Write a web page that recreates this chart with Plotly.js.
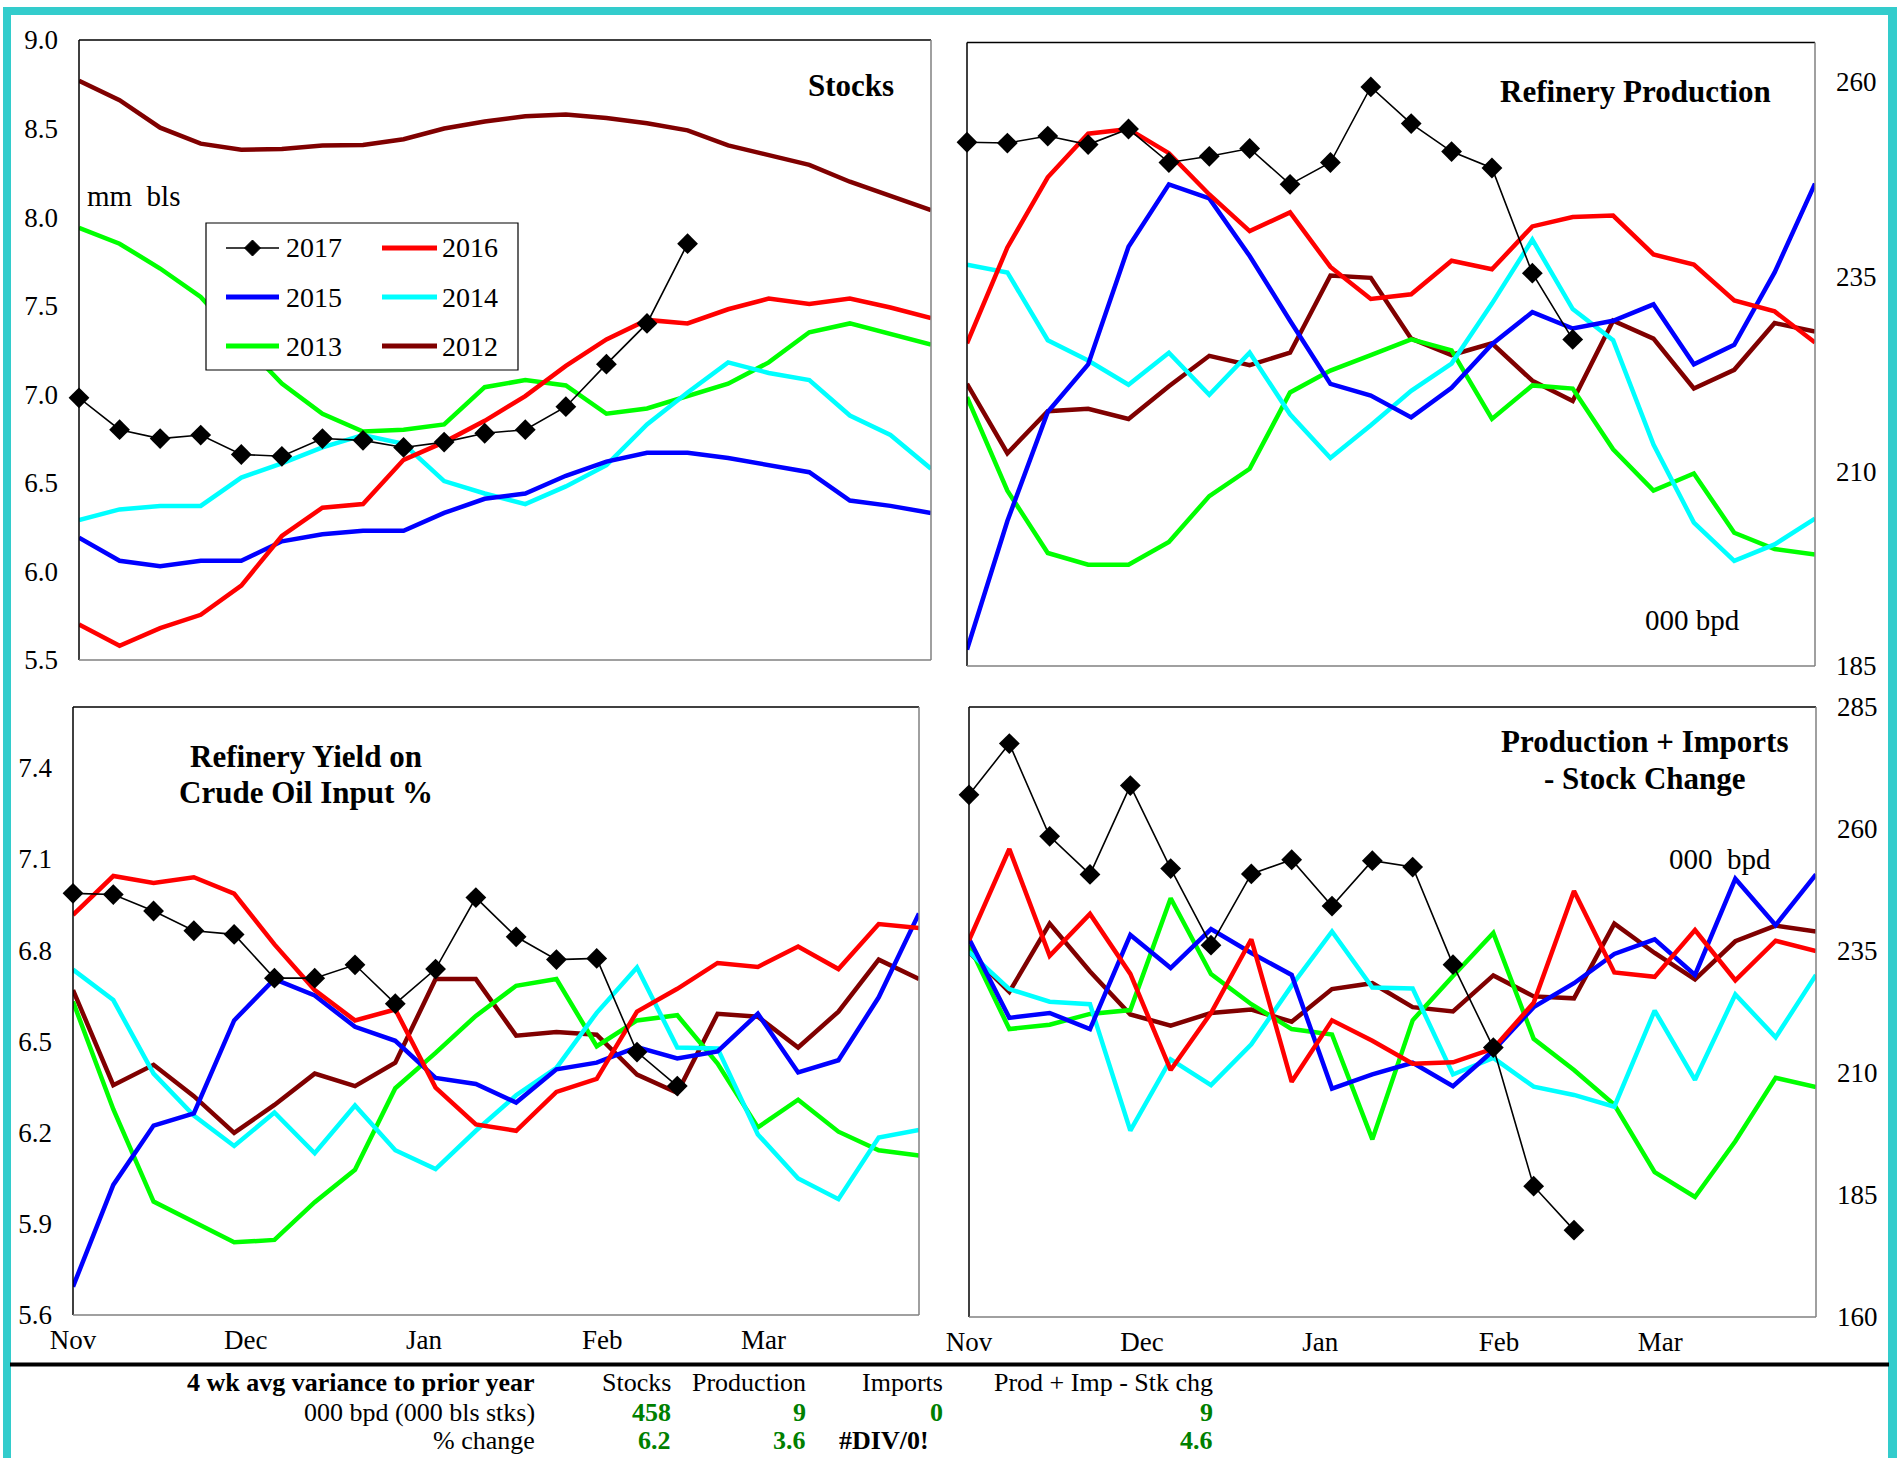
<!DOCTYPE html>
<html>
<head>
<meta charset="utf-8">
<script src="https://cdn.plot.ly/plotly-3.0.1.min.js"></script>
<style>html,body{margin:0;padding:0;background:#fff;}#chart{width:1902px;height:1458px;}</style>
</head>
<body>
<div id="chart"></div>
<script>
// ---------------- DATA ----------------
const weeks = [0,1,2,3,4,5,6,7,8,9,10,11,12,13,14,15,16,17,18,19,20,21];
const years = ['2017','2016','2015','2014','2013','2012'];
const yearColors = ['#000000','#FF0000','#0000FF','#00FFFF','#00FF00','#800000'];
const monthTickVals = [0, 4.29, 8.71, 13.14, 17.14];
const monthTickText = ['Nov','Dec','Jan','Feb','Mar'];

// Stocks (mm bls)
const stocks2017 = [6.98,6.80,6.75,6.77,6.66,6.65,6.75,6.74,6.70,6.73,6.78,6.80,6.93,7.17,7.40,7.85];
const stocks2016 = [5.70,5.58,5.68,5.755,5.92,6.20,6.36,6.38,6.63,6.73,6.85,6.99,7.16,7.31,7.42,7.40,7.48,7.54,7.51,7.54,7.49,7.43];
const stocks2015 = [6.19,6.06,6.03,6.06,6.06,6.17,6.21,6.23,6.23,6.33,6.41,6.44,6.54,6.62,6.67,6.67,6.64,6.60,6.56,6.40,6.37,6.33];
const stocks2014 = [6.29,6.35,6.37,6.37,6.53,6.61,6.70,6.77,6.72,6.51,6.44,6.38,6.48,6.60,6.83,7.01,7.18,7.12,7.08,6.88,6.77,6.58];
const stocks2013 = [7.94,7.85,7.71,7.55,7.30,7.06,6.89,6.79,6.80,6.83,7.04,7.08,7.05,6.89,6.92,6.99,7.06,7.18,7.35,7.40,7.34,7.28];
const stocks2012 = [8.77,8.66,8.505,8.415,8.38,8.385,8.405,8.407,8.44,8.50,8.54,8.57,8.58,8.56,8.53,8.49,8.405,8.35,8.295,8.20,8.12,8.04];

// Refinery production (000 bpd)
const prod2017 = [252.2,252.1,253.0,251.9,253.9,249.6,250.4,251.4,246.8,249.6,259.3,254.6,251.0,248.9,235.4,226.9];
const prod2016 = [226.4,238.7,247.7,253.3,253.9,250.8,245.5,240.8,243.2,236.2,232.1,232.7,237.0,235.9,241.4,242.6,242.8,237.8,236.5,231.9,230.5,226.5];
const prod2015 = [187.1,203.6,217.6,223.7,238.8,246.8,245.0,237.6,229.3,221.2,219.7,216.9,220.7,226.3,230.4,228.3,229.3,231.4,223.7,226.2,235.5,246.9];
const prod2014 = [236.5,235.5,226.8,224.2,221.1,225.2,219.8,225.2,217.3,211.7,215.9,220.3,223.8,231.5,239.7,230.8,226.8,213.4,203.4,198.5,200.6,203.9];
const prod2013 = [219.5,207.5,199.5,198.0,198.0,200.9,206.8,210.3,220.1,222.9,224.9,226.9,225.5,216.7,221.0,220.6,212.8,207.5,209.7,202.1,200.0,199.3];
const prod2012 = [221.2,212.3,217.7,218.0,216.7,220.9,224.8,223.6,225.2,235.1,234.8,227.0,224.9,226.4,221.6,219.0,229.3,227.0,220.6,223.0,229.0,227.9];

// Refinery yield on crude oil input (%)
const yield2017 = [6.987,6.983,6.929,6.864,6.852,6.708,6.708,6.752,6.624,6.738,6.973,6.844,6.769,6.773,6.465,6.353];
const yield2016 = [6.916,7.044,7.021,7.040,6.986,6.819,6.669,6.569,6.605,6.348,6.227,6.206,6.334,6.377,6.598,6.673,6.758,6.745,6.812,6.738,6.886,6.873];
const yield2015 = [5.693,6.028,6.223,6.263,6.569,6.705,6.651,6.548,6.502,6.380,6.360,6.299,6.408,6.430,6.481,6.444,6.467,6.591,6.398,6.438,6.645,6.921];
const yield2014 = [6.736,6.636,6.394,6.256,6.156,6.266,6.132,6.289,6.142,6.080,6.206,6.323,6.413,6.594,6.743,6.480,6.477,6.194,6.049,5.981,6.184,6.209];
const yield2013 = [6.631,6.277,5.973,5.906,5.839,5.847,5.971,6.078,6.346,6.462,6.584,6.683,6.705,6.484,6.569,6.586,6.427,6.217,6.308,6.203,6.142,6.125];
const yield2012 = [6.669,6.356,6.423,6.320,6.199,6.291,6.394,6.353,6.430,6.705,6.705,6.519,6.531,6.522,6.391,6.331,6.591,6.581,6.480,6.598,6.769,6.705];

// Production + Imports - Stock Change (000 bpd)
const pis2017 = [267.0,277.5,258.5,250.7,268.9,251.9,236.2,250.8,253.7,244.2,253.5,252.2,232.2,215.2,186.8,177.8];
const pis2016 = [237.2,255.9,234.0,242.6,230.3,210.6,222.3,237.4,208.2,220.8,216.6,211.9,212.2,215.0,224.4,247.3,230.6,229.7,239.3,229.0,237.1,235.0];
const pis2015 = [237.5,221.3,222.3,219.0,238.3,231.5,239.5,234.6,230.1,206.8,209.7,212.1,207.3,214.6,223.5,228.4,234.4,237.4,230.1,249.8,240.3,250.7];
const pis2014 = [234.8,227.2,224.6,224.1,198.2,212.8,207.5,215.9,227.9,239.0,227.5,227.3,209.7,213.1,207.2,205.5,203.1,222.8,208.6,226.1,217.3,230.1];
const pis2013 = [236.2,219.0,219.9,222.1,222.9,245.8,230.3,224.1,219.0,217.9,196.4,220.8,229.9,238.7,217.0,210.6,203.5,189.7,184.6,196.0,209.0,207.1];
const pis2012 = [234.8,226.6,240.6,230.8,222.0,219.7,222.3,223.0,220.5,227.2,228.4,223.5,222.6,230.0,225.7,225.3,240.6,234.6,229.2,237.0,240.2,239.0];

// Summary table
const tableHeaders = ['Stocks','Production','Imports','Prod + Imp - Stk chg'];
const tableVariance = ['458','9','0','9'];
const tablePctChange = ['6.2','3.6','#DIV/0!','4.6'];

// ---------------- BUILD ----------------
const W = 1902, H = 1458;
const px = x => x / W;
const py = y => 1 - y / H;
const FONT = 'Liberation Serif, Times New Roman, serif';

const panels = [
  {xa:'x',  ya:'y',  series:[stocks2017,stocks2016,stocks2015,stocks2014,stocks2013,stocks2012]},
  {xa:'x2', ya:'y2', series:[prod2017,prod2016,prod2015,prod2014,prod2013,prod2012]},
  {xa:'x3', ya:'y3', series:[yield2017,yield2016,yield2015,yield2014,yield2013,yield2012]},
  {xa:'x4', ya:'y4', series:[pis2017,pis2016,pis2015,pis2014,pis2013,pis2012]}
];

const traces = [];
panels.forEach(p => {
  for (let i = years.length - 1; i >= 0; i--) {
    const ys = p.series[i];
    const isCur = i === 0;
    const t = {
      type:'scatter', mode: isCur ? 'lines+markers' : 'lines',
      x: weeks.slice(0, ys.length), y: ys, name: years[i],
      xaxis: p.xa, yaxis: p.ya,
      line: {color: yearColors[i], width: isCur ? 1.6 : 4.5},
      cliponaxis: false, hoverinfo:'skip'
    };
    if (isCur) t.marker = {symbol:'diamond', size:16, color:'#000'};
    traces.push(t);
  }
});

const tickFont = {family: FONT, size: 27, color:'#000'};
const baseX = {range:[0,21], showgrid:false, zeroline:false, showline:false, ticks:'', fixedrange:true};
const baseY = {showgrid:false, zeroline:false, showline:false, ticks:'', fixedrange:true, tickfont: tickFont};

const layout = {
  width: W, height: H,
  margin: {l:0, r:0, t:0, b:0},
  paper_bgcolor:'#ffffff', plot_bgcolor:'#ffffff',
  showlegend: false,
  font: {family: FONT, size: 27, color:'#000'},
  xaxis:  Object.assign({}, baseX, {domain:[px(79), px(931)], anchor:'y', showticklabels:false}),
  yaxis:  Object.assign({}, baseY, {domain:[py(660), py(40)], anchor:'x', range:[5.5,9.0], tick0:5.5, dtick:0.5, tickformat:'.1f', ticklabelstandoff:20}),
  xaxis2: Object.assign({}, baseX, {domain:[px(967), px(1815)], anchor:'y2', showticklabels:false}),
  yaxis2: Object.assign({}, baseY, {domain:[py(666), py(42.5)], anchor:'x2', side:'right', range:[185,265], tick0:185, dtick:25, ticklabelstandoff:20}),
  xaxis3: Object.assign({}, baseX, {domain:[px(73), px(919)], anchor:'y3', tickmode:'array', tickvals:monthTickVals, ticktext:monthTickText, tickfont:tickFont, ticklabelstandoff:6}),
  yaxis3: Object.assign({}, baseY, {domain:[py(1315), py(707)], anchor:'x3', range:[5.6,7.6], tick0:5.6, dtick:0.3, tickformat:'.1f', ticklabelstandoff:20}),
  xaxis4: Object.assign({}, baseX, {domain:[px(969), px(1816)], anchor:'y4', tickmode:'array', tickvals:monthTickVals, ticktext:monthTickText, tickfont:tickFont, ticklabelstandoff:6}),
  yaxis4: Object.assign({}, baseY, {domain:[py(1317), py(707)], anchor:'x4', side:'right', range:[160,285], tick0:160, dtick:25, ticklabelstandoff:20}),
  shapes: [],
  annotations: []
};

const S = layout.shapes, A = layout.annotations;
function pline(x0,y0,x1,y1,color,width){
  S.push({type:'line', xref:'paper', yref:'paper', x0:px(x0), y0:py(y0), x1:px(x1), y1:py(y1), line:{color:color, width:width}, layer:'above'});
}
function frame(l,t,r,b){
  pline(l,t,r,t,'#000',1.5);
  pline(l,t,l,b,'#000',1.5);
  pline(r,t,r,b,'#808080',1.5);
  pline(l,b,r,b,'#808080',1.5);
}
frame(79,40,931,660);
frame(967,42.5,1815,666);
frame(73,707,919,1315);
frame(969,707,1816,1317);

function txt(x,y,text,opts){
  A.push(Object.assign({xref:'paper', yref:'paper', x:px(x), y:py(y), text:text, showarrow:false,
    xanchor:'left', yanchor:'middle', font:{family:FONT, size:29, color:'#000'}}, opts||{}));
}
const titleFont = {family:FONT, size:31, color:'#000'};
txt(896,85,'<b>Stocks</b>',{xanchor:'right', font:titleFont});
txt(85,196,'mm  bls');
txt(1773,91,'<b>Refinery Production</b>',{xanchor:'right', font:titleFont});
txt(1742,620,'000 bpd',{xanchor:'right'});
txt(306,756,'<b>Refinery Yield on</b>',{xanchor:'center', font:titleFont});
txt(306,793,'<b>Crude Oil Input %</b>',{xanchor:'center', font:titleFont});
txt(1645,741,'<b>Production + Imports</b>',{xanchor:'center', font:titleFont});
txt(1645,778,'<b>- Stock Change</b>',{xanchor:'center', font:titleFont});
txt(1773,859,'000  bpd',{xanchor:'right'});

// custom legend in stocks panel
S.push({type:'rect', xref:'paper', yref:'paper', x0:px(206), y0:py(223), x1:px(518), y1:py(370), line:{color:'#000', width:1.2}, fillcolor:'#ffffff', layer:'above'});
const legRows = [248, 297, 346];
const legCols = [{l0:226,l1:279,t:284},{l0:382,l1:437,t:440}];
years.forEach((yr, i) => {
  const r = legRows[Math.floor(i/2)], c = legCols[i%2];
  pline(c.l0, r, c.l1, r, yearColors[i], i === 0 ? 1.6 : 5);
  if (i === 0) {
    const cx = (c.l0 + c.l1)/2, d = 8;
    S.push({type:'path', xref:'paper', yref:'paper', layer:'above', fillcolor:'#000', line:{color:'#000', width:1},
      path:`M ${px(cx)} ${py(r-d)} L ${px(cx+d)} ${py(r)} L ${px(cx)} ${py(r+d)} L ${px(cx-d)} ${py(r)} Z`});
  }
  txt(c.t, r, yr, {font:{family:FONT, size:28, color:'#000'}});
});

// cyan outer frame
S.push({type:'line', xref:'paper', yref:'paper', x0:px(7), y0:py(11), x1:px(7), y1:py(1470), line:{color:'#33CCCC', width:8}, layer:'above'});
S.push({type:'line', xref:'paper', yref:'paper', x0:px(3), y0:py(11), x1:px(1897), y1:py(11), line:{color:'#33CCCC', width:8}, layer:'above'});
S.push({type:'line', xref:'paper', yref:'paper', x0:px(1892.5), y0:py(11), x1:px(1892.5), y1:py(1470), line:{color:'#33CCCC', width:9}, layer:'above'});
pline(10, 1364.5, 1889, 1364.5, '#000', 4);

// summary table
const tf = {family:FONT, size:26, color:'#000'};
const gf = {family:FONT, size:26, color:'#008000'};
const colRight = [673, 808, 945, 1215];
const rowY = [1382, 1412, 1440];
txt(537,rowY[0],'<b>4 wk avg variance to prior year</b>',{xanchor:'right', font:tf});
tableHeaders.forEach((h,i) => txt(colRight[i],rowY[0],h,{xanchor:'right', font:tf}));
txt(537,rowY[1],'000 bpd (000 bls stks)',{xanchor:'right', font:tf});
tableVariance.forEach((v,i) => txt(colRight[i],rowY[1],'<b>'+v+'</b>',{xanchor:'right', font:gf}));
txt(537,rowY[2],'% change',{xanchor:'right', font:tf});
tablePctChange.forEach((v,i) => {
  if (v.charAt(0) === '#') txt(837,rowY[2],'<b>'+v+'</b>',{xanchor:'left', font:tf});
  else txt(colRight[i],rowY[2],'<b>'+v+'</b>',{xanchor:'right', font:gf});
});

Plotly.newPlot('chart', traces, layout, {displayModeBar:false, staticPlot:true});
</script>
</body>
</html>
